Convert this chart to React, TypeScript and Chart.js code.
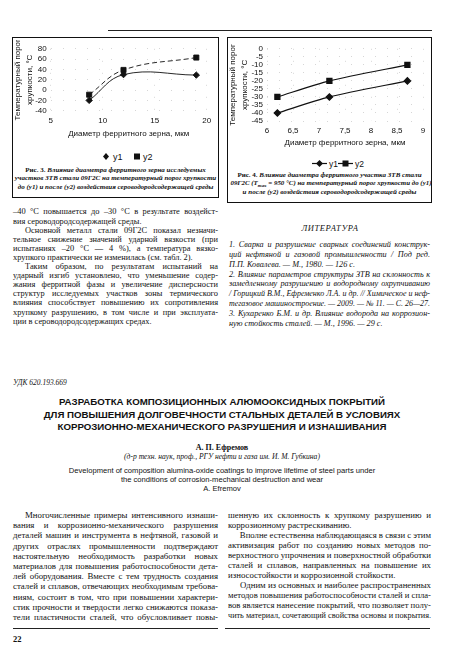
import { useEffect, useLayoutEffect, useRef } from "react"
import { Chart, registerables } from "chart.js"

Chart.register(...registerables)

// Рис. 3 — ЗТВ стали 09Г2С
const grain3 = [8.7, 12, 19]
const before3 = [-20, 30, 29]
const after3 = [-9, 39, 63]

// Рис. 4 — Tmax = 950 °С
const grain4 = [6.2, 7.2, 8.7]
const before4 = [-40, -30, -20]
const after4 = [-30, -20, -10]

const seriesNames = ["y1", "y2"]
const xTitle = "Диаметр ферритного зерна, мкм"
const yTitle = ["Температурный порог", "хрупкости, °С"]

const SANS = "'Liberation Sans', Arial, sans-serif"
const SERIF = "'Liberation Serif', 'Times New Roman', serif"
const INK = "#111"

document.body.style.margin = "0"

interface ChartSpec {
  xs: number[]
  y1: number[]
  y2: number[]
  xMin: number
  xMax: number
  xStep: number
  yMin: number
  yMax: number
  yStep: number
  yWidth: number
  padTop: number
  padRight: number
  xAxisH: number
  dashed: boolean
  tension: number
  lw: number
}

function buildConfig(s: ChartSpec): any {
  const font = { family: SANS, size: 8 }
  const grid = { color: "rgba(0,0,0,0.16)", lineWidth: 1, drawTicks: false }
  const border = { display: false, dash: [1, 11] }
  const fmt = (v: number | string) => String(v).replace(".", ",")
  return {
    type: "line",
    data: {
      datasets: [
        {
          label: seriesNames[0],
          data: s.xs.map((x, i) => ({ x, y: s.y1[i] })),
          borderColor: INK,
          borderWidth: s.lw,
          pointStyle: "rectRot",
          pointRadius: 3.2,
          pointBackgroundColor: INK,
          pointBorderColor: INK,
          tension: s.tension,
          fill: false,
        },
        {
          label: seriesNames[1],
          data: s.xs.map((x, i) => ({ x, y: s.y2[i] })),
          borderColor: INK,
          borderWidth: s.lw,
          borderDash: s.dashed ? [5, 3] : [],
          pointStyle: "rect",
          pointRadius: 3.6,
          pointBackgroundColor: INK,
          pointBorderColor: INK,
          tension: s.tension,
          fill: false,
        },
      ],
    },
    options: {
      animation: false,
      responsive: false,
      devicePixelRatio: 1,
      layout: { padding: { top: s.padTop, right: s.padRight, left: 0, bottom: 0 } },
      plugins: { legend: { display: false }, tooltip: { enabled: false } },
      scales: {
        x: {
          type: "linear",
          min: s.xMin,
          max: s.xMax,
          ticks: { stepSize: s.xStep, padding: 5, font, color: INK, callback: fmt, autoSkip: false, maxRotation: 0 },
          grid,
          border,
          title: { display: true, text: xTitle, font, color: INK, padding: { top: 0, bottom: 1 } },
          afterFit: (sc: any) => { sc.height = s.xAxisH },
        },
        y: {
          min: s.yMin,
          max: s.yMax,
          ticks: { stepSize: s.yStep, padding: 4, font, color: INK, callback: fmt, autoSkip: false },
          grid,
          border,
          title: {
            display: true,
            text: yTitle,
            font: { family: SANS, size: 8, lineHeight: 1.45 },
            color: INK,
            padding: 0,
          },
          afterFit: (sc: any) => { sc.width = s.yWidth },
        },
      },
    },
  }
}

function LineChart({ spec, left, top, width, height }: { spec: ChartSpec; left: number; top: number; width: number; height: number }) {
  const canvasRef = useRef<HTMLCanvasElement>(null)
  useEffect(() => {
    if (!canvasRef.current) return
    const chart = new Chart(canvasRef.current, buildConfig(spec))
    return () => { chart.destroy() }
  }, [spec])
  return (
    <canvas
      ref={canvasRef}
      width={width}
      height={height}
      style={{ position: "absolute", left, top, width, height }}
    />
  )
}

// one typeset line; squeezed horizontally if the font runs wider than the column
function TLine({ x, y, w, h, children, align = "justify", last = false, indent = 0, style }: any) {
  const ref = useRef<HTMLDivElement>(null)
  useLayoutEffect(() => {
    const el = ref.current
    if (!el) return
    const span = el.firstElementChild as HTMLElement
    const nat = span.getBoundingClientRect().width + indent
    if (nat > w) {
      el.style.transform = `scaleX(${w / nat})`
    }
  })
  return (
    <div
      ref={ref}
      style={{
        position: "absolute",
        left: x,
        top: y - h / 2,
        width: w,
        height: h,
        lineHeight: `${h}px`,
        whiteSpace: "nowrap",
        textAlign: align,
        textAlignLast: align === "justify" ? (last ? "left" : "justify") : align,
        textIndent: indent,
        transformOrigin: align === "center" ? "center" : "left",
        color: "#111",
        ...style,
      }}
    >
      <span>{children}</span>
    </div>
  )
}

interface Para { lines: string[]; indent: boolean; ends: boolean }

function Column({ paras, x, y0, w, step, font }: { paras: Para[]; x: number; y0: number; w: number; step: number; font: any }) {
  const out: any[] = []
  let n = 0
  paras.forEach((p, pi) => {
    p.lines.forEach((t, li) => {
      out.push(
        <TLine
          key={`${pi}-${li}`}
          x={x}
          y={y0 + n * step}
          w={w}
          h={step}
          indent={p.indent && li === 0 ? 12 : 0}
          last={p.ends && li === p.lines.length - 1}
          style={font}
        >
          {t}
        </TLine>
      )
      n++
    })
  })
  return <>{out}</>
}

const upperLeft: Para[] = [
  { indent: false, ends: true, lines: ["–40 °С повышается до –30 °С в результате воздейст-", "вия сероводородсодержащей среды."] },
  {
    indent: true, ends: true, lines: [
      "Основной металл стали 09Г2С показал незначи-",
      "тельное снижение значений ударной вязкости (при",
      "испытаниях –20 °С — 4 %), а температура вязко-",
      "хрупкого практически не изменилась (см. табл. 2).",
    ],
  },
  {
    indent: true, ends: true, lines: [
      "Таким образом, по результатам испытаний на",
      "ударный изгиб установлено, что уменьшение содер-",
      "жания ферритной фазы и увеличение дисперсности",
      "структур исследуемых участков зоны термического",
      "влияния способствует повышению их сопротивления",
      "хрупкому разрушению, в том числе и при эксплуата-",
      "ции в сероводородсодержащих средах.",
    ],
  },
]

const references: Para[] = [
  {
    indent: false, ends: true, lines: [
      "1. Сварка и разрушение сварных соединений конструк-",
      "ций нефтяной и газовой промышленности / Под ред.",
      "П.П. Ковалева. — М., 1980. — 126 с.",
    ],
  },
  {
    indent: false, ends: true, lines: [
      "2. Влияние параметров структуры ЗТВ на склонность к",
      "замедленному разрушению и водородному охрупчиванию",
      "/ Горицкий В.М., Ефременко Л.А. и др. // Химическое и неф-",
      "тегазовое машиностроение. — 2009. — № 11. — С. 26—27.",
    ],
  },
  {
    indent: false, ends: true, lines: [
      "3. Кухаренко Б.М. и др. Влияние водорода на коррозион-",
      "ную стойкость сталей. — М., 1996. — 29 с.",
    ],
  },
]

const bodyLeft: Para[] = [
  {
    indent: true, ends: false, lines: [
      "Многочисленные примеры интенсивного изнаши-",
      "вания и коррозионно-механического разрушения",
      "деталей машин и инструмента в нефтяной, газовой и",
      "других отраслях промышленности подтверждают",
      "настоятельную необходимость разработки новых",
      "материалов для повышения работоспособности дета-",
      "лей оборудования. Вместе с тем трудность создания",
      "сталей и сплавов, отвечающих необходимым требова-",
      "ниям, состоит в том, что при повышении характери-",
      "стик прочности и твердости легко снижаются показа-",
      "тели пластичности сталей, что обусловливает повы-",
    ],
  },
]

const bodyRight: Para[] = [
  { indent: false, ends: true, lines: ["шенную их склонность к хрупкому разрушению и", "коррозионному растрескиванию."] },
  {
    indent: true, ends: true, lines: [
      "Вполне естественна наблюдающаяся в связи с этим",
      "активизация работ по созданию новых методов по-",
      "верхностного упрочнения и поверхностной обработки",
      "сталей и сплавов, направленных на повышение их",
      "износостойкости и коррозионной стойкости.",
    ],
  },
  {
    indent: true, ends: false, lines: [
      "Одним из основных и наиболее распространенных",
      "методов повышения работоспособности сталей и спла-",
      "вов является нанесение покрытий, что позволяет полу-",
      "чить материал, сочетающий свойства основы и покрытия.",
    ],
  },
]

const titleLines = [
  "РАЗРАБОТКА КОМПОЗИЦИОННЫХ АЛЮМООКСИДНЫХ ПОКРЫТИЙ",
  "ДЛЯ ПОВЫШЕНИЯ ДОЛГОВЕЧНОСТИ СТАЛЬНЫХ ДЕТАЛЕЙ В УСЛОВИЯХ",
  "КОРРОЗИОННО-МЕХАНИЧЕСКОГО РАЗРУШЕНИЯ И ИЗНАШИВАНИЯ",
]

const englishLines = [
  "Development of composition alumina-oxide coatings to improve lifetime of steel parts under",
  "the conditions of corrosion-mechanical destruction and wear",
]

const fig3: ChartSpec = {
  xs: grain3, y1: before3, y2: after3,
  xMin: 5, xMax: 20, xStep: 5, yMin: -40, yMax: 80, yStep: 20,
  yWidth: 38.7, padTop: 6, padRight: 11.3, xAxisH: 29.3,
  dashed: true, tension: 0.4, lw: 0.9,
}

const fig4: ChartSpec = {
  xs: grain4, y1: before4, y2: after4,
  xMin: 6, xMax: 9, xStep: 0.5, yMin: -45, yMax: 0, yStep: 5,
  yWidth: 40, padTop: 6, padRight: 9, xAxisH: 28,
  dashed: false, tension: 0.25, lw: 1.2,
}

const capFont = { fontFamily: SERIF, fontSize: 7, fontStyle: "italic", fontWeight: "bold" }

function Rule({ x1, x2, y }: { x1: number; x2: number; y: number }) {
  return <div style={{ position: "absolute", left: x1, top: y, width: x2 - x1, height: 1, background: "#222" }} />
}

export default function App() {
  const bodySerif = { fontFamily: SERIF, fontSize: 8.4 }
  const bodySerif2 = { fontFamily: SERIF, fontSize: 8.8 }
  const refFont = { fontFamily: SERIF, fontSize: 8.2, fontStyle: "italic" }

  return (
    <div style={{ position: "relative", width: 450, height: 672, background: "#fff", overflow: "hidden" }}>
      <Rule x1={108} x2={432} y={30} />

      {/* Рис. 3 */}
      <div style={{ position: "absolute", left: 12, top: 37, width: 207, height: 161, border: "1px solid #111", boxSizing: "border-box" }} />
      <LineChart spec={fig3} left={12} top={40} width={206} height={100} />
      <svg style={{ position: "absolute", left: 98, top: 150 }} width={64} height={13}>
        <polygon points="8,3 11,6.5 8,10 5,6.5" fill={INK} />
        <text x={15} y={10} fontFamily={SANS} fontSize={9} fill={INK}>{seriesNames[0]}</text>
        <rect x={36} y={3.5} width={6} height={6} fill={INK} />
        <text x={45} y={10} fontFamily={SANS} fontSize={9} fill={INK}>{seriesNames[1]}</text>
      </svg>
      <TLine x={14} y={170} w={203} h={8.5} align="center" style={capFont}>
        <span style={{ fontStyle: "normal" }}>Рис. 3.</span> Влияние диаметра ферритного зерна исследуемых
      </TLine>
      <TLine x={14} y={178.5} w={203} h={8.5} align="center" style={capFont}>
        участков ЗТВ стали 09Г2С на температурный порог хрупкости
      </TLine>
      <TLine x={14} y={187} w={203} h={8.5} align="center" style={capFont}>
        до (у1) и после (у2) воздействия сероводородсодержащей среды
      </TLine>

      {/* Рис. 4 */}
      <div style={{ position: "absolute", left: 227, top: 37, width: 205, height: 166, border: "1px solid #111", boxSizing: "border-box" }} />
      <LineChart spec={fig4} left={227} top={40} width={205} height={109} />
      <svg style={{ position: "absolute", left: 310, top: 157 }} width={56} height={13}>
        <line x1={2} y1={6.5} x2={17} y2={6.5} stroke={INK} strokeWidth={1.2} />
        <polygon points="9.5,3 13,6.5 9.5,10 6,6.5" fill={INK} />
        <text x={19} y={10} fontFamily={SANS} fontSize={8.5} fill={INK}>{seriesNames[0]}</text>
        <line x1={28} y1={6.5} x2={43} y2={6.5} stroke={INK} strokeWidth={1.2} />
        <rect x={32.5} y={3.5} width={6} height={6} fill={INK} />
        <text x={45} y={10} fontFamily={SANS} fontSize={8.5} fill={INK}>{seriesNames[1]}</text>
      </svg>
      <TLine x={229} y={175} w={201} h={8.5} align="center" style={capFont}>
        <span style={{ fontStyle: "normal" }}>Рис. 4.</span> Влияние диаметра ферритного участка ЗТВ стали
      </TLine>
      <TLine x={229} y={183.5} w={201} h={8.5} align="center" style={capFont}>
        09Г2С (T<sub style={{ fontSize: 5 }}>max</sub> = 950 °С) на температурный порог хрупкости до (у1)
      </TLine>
      <TLine x={229} y={192} w={201} h={8.5} align="center" style={capFont}>
        и после (у2) воздействия сероводородсодержащей среды
      </TLine>

      {/* конец предыдущей статьи */}
      <Column paras={upperLeft} x={13} y0={212} w={205} step={9.1} font={bodySerif} />
      <TLine x={230} y={228} w={200} h={10} align="center" style={{ fontFamily: SERIF, fontSize: 8.5, fontStyle: "italic", letterSpacing: 0.6 }}>
        ЛИТЕРАТУРА
      </TLine>
      <Column paras={references} x={229} y0={245} w={201} step={9.8} font={refFont} />

      {/* новая статья */}
      <TLine x={13} y={382} w={120} h={9} align="left" style={{ fontFamily: SERIF, fontSize: 7.5, fontStyle: "italic" }}>
        УДК 620.193.669
      </TLine>
      {titleLines.map((t, i) => (
        <TLine key={t} x={20} y={402 + i * 12.5} w={404} h={12} align="center" style={{ fontFamily: SANS, fontSize: 9.7, fontWeight: "bold" }}>
          {t}
        </TLine>
      ))}
      <TLine x={20} y={447} w={404} h={9} align="center" style={{ fontFamily: SERIF, fontSize: 8, fontWeight: "bold" }}>
        А. П. Ефремов
      </TLine>
      <TLine x={20} y={456} w={404} h={9} align="center" style={{ fontFamily: SERIF, fontSize: 7.6, fontStyle: "italic" }}>
        (д-р техн. наук, проф., РГУ нефти и газа им. И. М. Губкина)
      </TLine>
      {englishLines.map((t, i) => (
        <TLine key={t} x={20} y={470 + i * 9} w={404} h={9} align="center" style={{ fontFamily: SANS, fontSize: 7.6 }}>
          {t}
        </TLine>
      ))}
      <TLine x={20} y={488} w={404} h={9} align="center" style={{ fontFamily: SANS, fontSize: 7.6 }}>
        A. Efremov
      </TLine>

      <Column paras={bodyLeft} x={13} y0={515} w={205} step={10.2} font={bodySerif2} />
      <Column paras={bodyRight} x={228} y0={515} w={203} step={10.0} font={bodySerif2} />

      <Rule x1={13} x2={218} y={628} />
      <Rule x1={225} x2={430} y={628} />
      <TLine x={13} y={639} w={30} h={10} align="left" style={{ fontFamily: SERIF, fontSize: 8.5, fontWeight: "bold" }}>
        22
      </TLine>
    </div>
  )
}
